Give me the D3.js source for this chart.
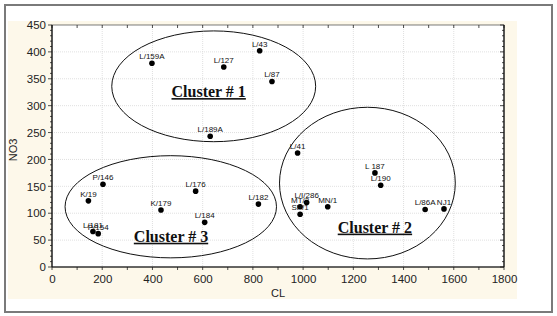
<!DOCTYPE html>
<html>
<head>
<meta charset="utf-8">
<script src="https://cdn.jsdelivr.net/npm/d3@7"></script>
<style>
  body { margin: 0; background: #fff; }
  svg text { font-family: Arial, "Liberation Sans", sans-serif; }
  svg text.cluster { font-family: "Liberation Serif", "Times New Roman", serif; font-weight: bold; }
</style>
</head>
<body>
<div id="chart"></div>
<script>
// Sample data (CL vs NO3)
const labels = ["L/159A", "L/127", "L/43", "L/87", "L/189A",
  "L/41", "L 187", "L/190", "L/86A", "NJ1", "MN/1", "L/I/286", "MT/2", "SP/1",
  "P/146", "K/19", "K/179", "L/176", "L/182", "L/184", "L/181", "P/154"];
const clValues = [398, 684, 827, 876, 630,
  978, 1286, 1309, 1486, 1561, 1098, 1014, 988, 988,
  203, 145, 434, 572, 822, 608, 163, 184];
const no3Values = [379, 372, 402, 345, 243,
  212, 175, 152, 107, 108, 112, 120, 112, 98,
  154, 123, 106, 141, 117, 83, 66, 62];

// Cluster outlines (data units)
const clusterNames = ["Cluster # 1", "Cluster # 2", "Cluster # 3"];
const clusterCx = [644, 1256, 473];
const clusterCy = [336, 156, 112];
const clusterRx = [406, 350, 421];
const clusterRy = [103, 141, 95];
const clusterTextX = [624, 1286, 474];
const clusterTextY = [316, 64, 47];

const xTicks = [0, 200, 400, 600, 800, 1000, 1200, 1400, 1600, 1800];
const yTicks = [0, 50, 100, 150, 200, 250, 300, 350, 400, 450];

// Dimensions
let w = 557, h = 316;
let pLeft = 52, pRight = 504, pTop = 25, pBottom = 267;

let svg = d3.select("#chart").append("svg").attr("width", w).attr("height", h);

// Frame + cream panel
svg.append("rect").attr("x", 5).attr("y", 5).attr("width", 547).attr("height", 307)
  .attr("fill", "#fff").attr("stroke", "#7a7a7a").attr("stroke-width", 2);
svg.append("rect").attr("x", 8).attr("y", 21).attr("width", 509).attr("height", 278)
  .attr("fill", "#fdf8ea");
svg.append("rect").attr("x", pLeft).attr("y", pTop).attr("width", pRight - pLeft).attr("height", pBottom - pTop)
  .attr("fill", "#fff");

let xScale = d3.scaleLinear().domain([0, 1800]).range([pLeft, pRight]);
let yScale = d3.scaleLinear().domain([0, 450]).range([pBottom, pTop]);

// Grid
svg.append("g").selectAll("line").data(xTicks.slice(1, -1)).enter().append("line")
  .attr("x1", d => xScale(d)).attr("x2", d => xScale(d)).attr("y1", pTop).attr("y2", pBottom)
  .attr("stroke", "#d8d8d8").attr("stroke-dasharray", "1,1").attr("stroke-width", 0.8);
svg.append("g").selectAll("line").data(yTicks.slice(1, -1)).enter().append("line")
  .attr("y1", d => yScale(d)).attr("y2", d => yScale(d)).attr("x1", pLeft).attr("x2", pRight)
  .attr("stroke", "#d8d8d8").attr("stroke-dasharray", "1,1").attr("stroke-width", 0.8);

// Axes
let xAxis = d3.axisBottom(xScale).tickValues(xTicks).tickSize(0).tickPadding(8).tickFormat(d3.format("d"));
let yAxis = d3.axisLeft(yScale).tickValues(yTicks).tickSize(0).tickPadding(6);
let gx = svg.append("g").attr("transform", "translate(0," + pBottom + ")").call(xAxis);
let gy = svg.append("g").attr("transform", "translate(" + pLeft + ",0)").call(yAxis);
[gx, gy].forEach(g => {
  g.select(".domain").remove();
  g.selectAll("text").attr("font-size", 11.5).attr("fill", "#222");
});

// Tick marks
let xMinor = d3.range(0, 1801, 100);
let yMinor = d3.range(0, 451, 10);
let ticks = svg.append("g").attr("stroke", "#222").attr("stroke-width", 0.8);
xMinor.forEach(v => {
  ticks.append("line").attr("x1", xScale(v)).attr("x2", xScale(v)).attr("y1", pBottom).attr("y2", pBottom + 3);
  ticks.append("line").attr("x1", xScale(v)).attr("x2", xScale(v)).attr("y1", pTop).attr("y2", pTop + 3);
});
yMinor.forEach(v => {
  let len = v % 50 === 0 ? 4 : 2;
  ticks.append("line").attr("y1", yScale(v)).attr("y2", yScale(v)).attr("x1", pLeft - len).attr("x2", pLeft);
  ticks.append("line").attr("y1", yScale(v)).attr("y2", yScale(v)).attr("x1", pRight - len).attr("x2", pRight);
});

// Plot box
svg.append("rect").attr("x", pLeft).attr("y", pTop).attr("width", pRight - pLeft).attr("height", pBottom - pTop)
  .attr("fill", "none").attr("stroke", "#222").attr("stroke-width", 0.6);
svg.append("line").attr("x1", pLeft).attr("x2", pLeft).attr("y1", pTop).attr("y2", pBottom).attr("stroke", "#111").attr("stroke-width", 1.2);
svg.append("line").attr("x1", pLeft).attr("x2", pRight).attr("y1", pBottom).attr("y2", pBottom).attr("stroke", "#111").attr("stroke-width", 1.2);
svg.append("line").attr("x1", pRight).attr("x2", pRight).attr("y1", pTop).attr("y2", pBottom).attr("stroke", "#111").attr("stroke-width", 1.2);

// Axis titles
svg.append("text").text("CL").attr("x", (pLeft + pRight) / 2).attr("y", 297)
  .attr("text-anchor", "middle").attr("font-size", 11).attr("fill", "#222");
svg.append("text").text("NO3").attr("transform", "translate(17,150) rotate(-90)")
  .attr("text-anchor", "middle").attr("font-size", 11).attr("fill", "#222");

// Cluster ellipses
clusterNames.forEach((name, i) => {
  svg.append("ellipse")
    .attr("cx", xScale(clusterCx[i])).attr("cy", yScale(clusterCy[i]))
    .attr("rx", xScale(clusterRx[i]) - xScale(0)).attr("ry", yScale(0) - yScale(clusterRy[i]))
    .attr("fill", "none").attr("stroke", "#111").attr("stroke-width", 1);
  svg.append("text").text(name).classed("cluster", true)
    .attr("x", xScale(clusterTextX[i])).attr("y", yScale(clusterTextY[i]))
    .attr("text-anchor", "middle")
    .attr("font-size", 16).attr("text-decoration", "underline").attr("fill", "#111");
});

// Points
let pts = labels.map((l, i) => ({ label: l, x: clValues[i], y: no3Values[i] }));
svg.append("g").selectAll("circle").data(pts).enter().append("circle")
  .attr("cx", d => xScale(d.x)).attr("cy", d => yScale(d.y)).attr("r", 2.8).attr("fill", "#000");
svg.append("g").selectAll("text").data(pts).enter().append("text")
  .text(d => d.label).attr("x", d => xScale(d.x)).attr("y", d => yScale(d.y) - 4)
  .attr("text-anchor", "middle").attr("font-size", 8).attr("fill", "#111");
</script>
</body>
</html>
